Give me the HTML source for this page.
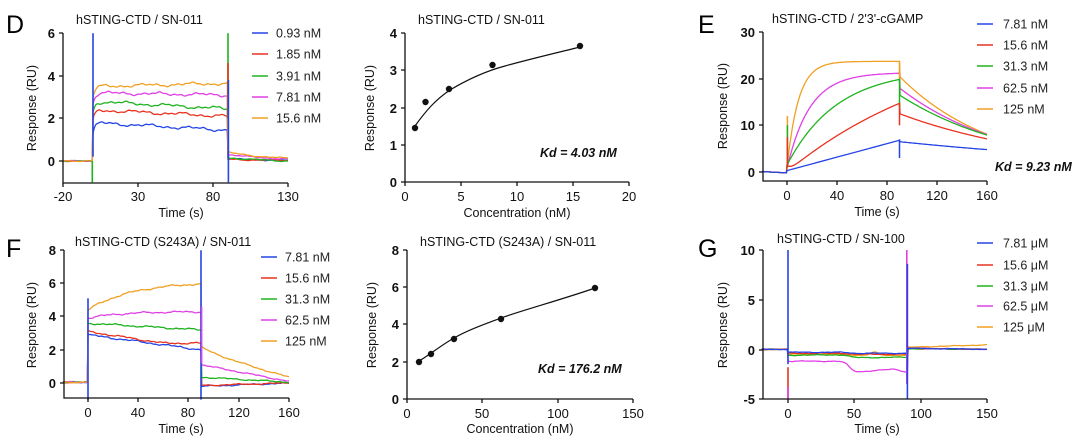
<!DOCTYPE html>
<html><head><meta charset="utf-8"><style>
html,body{margin:0;padding:0;background:#fff;}
svg{display:block;font-family:"Liberation Sans",Arial,sans-serif;}
.tk{font-size:13px;font-weight:bold;fill:#111;}
.tl{font-size:12.5px;fill:#111;}
.lg{font-size:12.5px;fill:#222;}
.ax{stroke:#111;stroke-width:1.3;fill:none;}
.big{font-size:25px;fill:#000;}
.kd{font-size:12.5px;font-weight:bold;font-style:italic;fill:#111;}
</style></head><body>
<svg id="s" width="1080" height="445" viewBox="0 0 1080 445" xmlns="http://www.w3.org/2000/svg">
<text class="big" x="6" y="33">D</text>
<text class="big" x="698" y="33">E</text>
<text class="big" x="6" y="257">F</text>
<text class="big" x="698" y="257">G</text>

<!-- ===== D ===== -->
<text class="tl" x="76" y="24">hSTING-CTD / SN-011</text>
<g id="dplot"></g>
<path class="ax" d="M63,33 V183 H288"/>
<g class="ax"><path d="M59,33H63M59,76H63M59,118H63M59,161H63M63,183v4M138,183v4M213,183v4M288,183v4"/></g>
<g class="tk" text-anchor="end"><text x="55" y="38">6</text><text x="55" y="81">4</text><text x="55" y="123">2</text><text x="55" y="166">0</text></g>
<g class="tk" text-anchor="middle" style="font-weight:normal"><text x="63" y="201">-20</text><text x="138" y="201">30</text><text x="213" y="201">80</text><text x="288" y="201">130</text></g>
<text class="tl" x="181" y="217" text-anchor="middle">Time (s)</text>
<text class="tl" transform="translate(36,108) rotate(-90)" text-anchor="middle">Response (RU)</text>

<!-- ===== D2 ===== -->
<text class="tl" x="418" y="24">hSTING-CTD / SN-011</text>
<path class="ax" d="M405,33 V182 H629"/>
<g class="ax"><path d="M401,33H405M401,70H405M401,108H405M401,145H405M401,182H405M405,182v4M461,182v4M517,182v4M573,182v4M629,182v4"/></g>
<g class="tk" text-anchor="end"><text x="397" y="38">4</text><text x="397" y="75">3</text><text x="397" y="113">2</text><text x="397" y="150">1</text><text x="397" y="187">0</text></g>
<g class="tk" text-anchor="middle" style="font-weight:normal"><text x="405" y="201">0</text><text x="461" y="201">5</text><text x="517" y="201">10</text><text x="573" y="201">15</text><text x="629" y="201">20</text></g>
<text class="tl" x="517" y="217" text-anchor="middle">Concentration (nM)</text>
<text class="tl" transform="translate(374,108) rotate(-90)" text-anchor="middle">Response (RU)</text>
<path d="M415,126 C425,112 435,100 450,90 C470,78 490,70 505,66 C530,59 560,52 580,47" fill="none" stroke="#111" stroke-width="1.2"/>
<g fill="#111"><circle cx="415" cy="128" r="3.2"/><circle cx="425.5" cy="102" r="3.2"/><circle cx="449" cy="89" r="3.2"/><circle cx="492.5" cy="65" r="3.2"/><circle cx="580" cy="46" r="3.2"/></g>
<text class="kd" x="540" y="157">Kd = 4.03 nM</text>

<!-- ===== E ===== -->
<text class="tl" x="772" y="23">hSTING-CTD / 2'3'-cGAMP</text>
<g id="eplot"></g>
<path class="ax" d="M763,32 V181 H987"/>
<g class="ax"><path d="M759,32H763M759,79H763M759,125H763M759,172H763M787,181v4M837,181v4M887,181v4M937,181v4M987,181v4"/></g>
<g class="tk" text-anchor="end"><text x="755" y="37">30</text><text x="755" y="84">20</text><text x="755" y="130">10</text><text x="755" y="177">0</text></g>
<g class="tk" text-anchor="middle" style="font-weight:normal"><text x="787" y="200">0</text><text x="837" y="200">40</text><text x="887" y="200">80</text><text x="937" y="200">120</text><text x="987" y="200">160</text></g>
<text class="tl" x="877" y="216" text-anchor="middle">Time (s)</text>
<text class="tl" transform="translate(727,106) rotate(-90)" text-anchor="middle">Response (RU)</text>
<text class="kd" x="995" y="171">Kd = 9.23 nM</text>

<!-- ===== F ===== -->
<text class="tl" x="75" y="246">hSTING-CTD (S243A) / SN-011</text>
<g id="fplot"></g>
<path class="ax" d="M64,250 V398 H289"/>
<g class="ax"><path d="M60,250H64M60,283H64M60,316H64M60,350H64M60,383H64M88,398v4M138,398v4M188,398v4M239,398v4M289,398v4"/></g>
<g class="tk" text-anchor="end"><text x="56" y="255">8</text><text x="56" y="288">6</text><text x="56" y="321">4</text><text x="56" y="355">2</text><text x="56" y="388">0</text></g>
<g class="tk" text-anchor="middle" style="font-weight:normal"><text x="88" y="417">0</text><text x="138" y="417">40</text><text x="188" y="417">80</text><text x="239" y="417">120</text><text x="289" y="417">160</text></g>
<text class="tl" x="181" y="433" text-anchor="middle">Time (s)</text>
<text class="tl" transform="translate(36,325) rotate(-90)" text-anchor="middle">Response (RU)</text>

<!-- ===== F2 ===== -->
<text class="tl" x="420" y="246">hSTING-CTD (S243A) / SN-011</text>
<path class="ax" d="M407,250 V399 H633"/>
<g class="ax"><path d="M403,250H407M403,287H407M403,324H407M403,362H407M403,399H407M407,399v4M482,399v4M558,399v4M633,399v4"/></g>
<g class="tk" text-anchor="end"><text x="399" y="255">8</text><text x="399" y="292">6</text><text x="399" y="329">4</text><text x="399" y="367">2</text><text x="399" y="404">0</text></g>
<g class="tk" text-anchor="middle" style="font-weight:normal"><text x="407" y="418">0</text><text x="482" y="418">50</text><text x="558" y="418">100</text><text x="633" y="418">150</text></g>
<text class="tl" x="520" y="433" text-anchor="middle">Concentration (nM)</text>
<text class="tl" transform="translate(376,325) rotate(-90)" text-anchor="middle">Response (RU)</text>
<path d="M419,361 C428,356 440,346 454,338 S485,324 501,318 S570,297 595,288" fill="none" stroke="#111" stroke-width="1.2"/>
<g fill="#111"><circle cx="419" cy="362" r="3.2"/><circle cx="431" cy="354" r="3.2"/><circle cx="454" cy="339" r="3.2"/><circle cx="501" cy="319" r="3.2"/><circle cx="595" cy="288" r="3.2"/></g>
<text class="kd" x="538" y="373">Kd = 176.2 nM</text>

<!-- ===== G ===== -->
<text class="tl" x="777" y="243">hSTING-CTD / SN-100</text>
<g id="gplot"></g>
<path class="ax" d="M763,250 V399 H987"/>
<g class="ax"><path d="M759,250H763M759,300H763M759,350H763M759,399H763M788,399v4M854,399v4M921,399v4M987,399v4"/></g>
<g class="tk" text-anchor="end"><text x="755" y="255">10</text><text x="755" y="305">5</text><text x="755" y="355">0</text><text x="755" y="404">-5</text></g>
<g class="tk" text-anchor="middle" style="font-weight:normal"><text x="788" y="418">0</text><text x="854" y="418">50</text><text x="921" y="418">100</text><text x="987" y="418">150</text></g>
<text class="tl" x="877" y="433" text-anchor="middle">Time (s)</text>
<text class="tl" transform="translate(727,325) rotate(-90)" text-anchor="middle">Response (RU)</text>

<g id="legends"></g>
</svg>
<script>
var C=["#2444e6","#e8331f","#1fb31f","#e040e6","#f0a022"];
var NS="http://www.w3.org/2000/svg";
function pl(g,pts,c,w){var p=document.createElementNS(NS,"polyline");p.setAttribute("points",pts.map(function(a){return a[0].toFixed(1)+","+a[1].toFixed(1)}).join(" "));p.setAttribute("fill","none");p.setAttribute("stroke",c);p.setAttribute("stroke-width",w||1.3);document.getElementById(g).appendChild(p);}
function nz(t,i){return 0.5*Math.sin(t*0.21+i*1.7)+0.3*Math.sin(t*0.53+i)+0.2*Math.sin(t*1.3+i*2.3);}
function curve(g,t0,t1,X,Y,f,c){var pts=[];for(var t=t0;t<=t1;t+=0.5){pts.push([X(t),Y(f(t))]);}pl(g,pts,c);}
// D
(function(){var X=function(t){return 93+1.5*t},Y=function(v){return 161-21.3*v};
var a=[1.8,2.4,2.8,3.2,3.5],b=[1.45,2.1,2.45,3.1,3.65],d=[0.1,0.08,0.15,0.3,0.4];
for(var i=0;i<5;i++)(function(i){curve("dplot",-20,130,X,Y,function(t){
 if(t<0)return 0.03*nz(t,i);
 if(t<90){var v=a[i]+(b[i]-a[i])*(t/90)-0.5*Math.exp(-t/1.5);return v+0.1*nz(t,i);}
 return d[i]*Math.exp(-(t-90)/35)-0.05*(i==2?1:0)*(t-90)/40+0.04*nz(t,i);},C[i]);})(i);
pl("dplot",[[X(0),Y(6)],[X(0),Y(0.2)]],C[0],1.6);pl("dplot",[[X(-0.5),Y(0)],[X(-0.5),Y(-1)]],C[2],1.6);
pl("dplot",[[X(90),Y(6)],[X(90),Y(2)]],C[2],1.6);pl("dplot",[[X(90),Y(4.6)],[X(90),Y(2)]],C[1],1.6);pl("dplot",[[X(90.3),Y(3.8)],[X(90.3),Y(-1)]],C[0],1.6);})();
// E
(function(){var X=function(t){return 787+1.25*t},Y=function(v){return 172-4.667*v};
var f=[function(t){return 0.3+6.5*t/90},function(t){return 30*(1-Math.exp(-0.0075*t))+1.5*Math.exp(-t/3)},function(t){return 20.5*(1-Math.exp(-0.025*t))+1.5},function(t){return 20.5*(1-Math.exp(-0.055*t))+0.8},function(t){return 22.8*(1-Math.exp(-0.11*t))+0.9}];
var s=[6.5,12.5,16.5,18,20.5],e=[4.8,7.1,7.9,8.0,8.1];
for(var i=4;i>=0;i--)(function(i){curve("eplot",-20,160,X,Y,function(t){
 if(t<0)return 0.1-0.3*(t+20)/20;
 if(t<=90)return f[i](t);
 var k=Math.log(s[i]/e[i])/70;return s[i]*Math.exp(-k*(t-90));},C[i]);})(i);
pl("eplot",[[X(0.3),Y(12)],[X(0.3),Y(1)]],C[4],1.5);pl("eplot",[[X(0.3),Y(10)],[X(0.3),Y(1)]],C[2],1.5);pl("eplot",[[X(0.3),Y(7.5)],[X(0.3),Y(1)]],C[1],1.5);
pl("eplot",[[X(90),Y(23.7)],[X(90),Y(20)]],C[4],1.5);pl("eplot",[[X(90),Y(20)],[X(90),Y(14)]],C[2],1.5);pl("eplot",[[X(90),Y(14.8)],[X(90),Y(10)]],C[1],1.5);pl("eplot",[[X(90),Y(7)],[X(90),Y(3)]],C[0],1.5);})();
// F
(function(){var X=function(t){return 88+1.256*t},Y=function(v){return 383-16.6*v};
var f=[function(t){return 2.9-0.9*t/90},function(t){return 3.1-0.7*Math.min(t/60,1)},function(t){return 3.6-0.4*t/90},function(t){return 3.9+0.4*(1-Math.exp(-t/25))},function(t){return 4.4+1.7*(1-Math.exp(-t/35))}];
var s=[-0.2,-0.15,0.35,1.1,2.2],e=[0,0,0.05,0.1,0.35];
for(var i=0;i<5;i++)(function(i){curve("fplot",-20,160,X,Y,function(t){
 if(t<0)return 0.05+0.05*nz(t,i);
 if(t<=90)return f[i](t)+0.07*nz(t,i);
 var u=(t-90)/70;return s[i]+(e[i]-s[i])*(i==4?Math.pow(u,0.8):u)+0.05*nz(t,i);},C[i]);})(i);
pl("fplot",[[X(0),Y(5.1)],[X(0),Y(-1)]],C[0],1.6);pl("fplot",[[X(90),Y(8)],[X(90),Y(-1)]],C[0],1.6);pl("fplot",[[X(90.5),Y(4.6)],[X(90.5),Y(1.2)]],C[3],1.4);})();
// G
(function(){var X=function(t){return 788+1.327*t},Y=function(v){return 349.3-9.93*v};
function sig(t){return 1/(1+Math.exp(-(t-46)/2));}
var f=[function(t){return -0.3-0.1*sig(t)},function(t){return -0.4-0.1*sig(t)},function(t){return -0.6-0.3*sig(t)+0.1*t/90},function(t){return -1.2-1.1*sig(t)+0.3*Math.max(0,t-50)/30-0.4*Math.max(0,t-80)/10},function(t){return -0.5-0.1*sig(t)+0.3*Math.exp(-Math.pow((t-65)/4,2))}];
var a=[0.1,0.1,0.05,0.1,0.2],b=[0,0,0,0,0.45];
for(var i=4;i>=0;i--)(function(i){curve("gplot",-20,150,X,Y,function(t){
 if(t<0)return 0.05*nz(t,i);
 if(t<=90)return f[i](t)+0.05*nz(t,i);
 return a[i]+(b[i]-a[i])*(t-90)/60+0.04*nz(t,i);},C[i]);})(i);
pl("gplot",[[X(0),Y(10)],[X(0),Y(-1.5)]],C[0],1.6);pl("gplot",[[X(0),Y(-1.8)],[X(0),Y(-5)]],C[1],1.6);pl("gplot",[[X(0),Y(-3.8)],[X(0),Y(-5)]],C[3],1.6);
pl("gplot",[[X(89.5),Y(10)],[X(89.5),Y(-3.5)]],C[3],1.6);pl("gplot",[[X(90),Y(8.6)],[X(90),Y(-5)]],C[0],1.6);})();
function leg(x,tx,ys,labels){for(var i=0;i<5;i++){pl("legends",[[x,ys[i]],[x+16,ys[i]]],C[i],1.5);var t=document.createElementNS(NS,"text");t.setAttribute("x",tx);t.setAttribute("y",ys[i]+4.5);t.setAttribute("class","lg");t.textContent=labels[i];document.getElementById("legends").appendChild(t);}}
leg(252,276,[33,54,76,97,118],["0.93 nM","1.85 nM","3.91 nM","7.81 nM","15.6 nM"]);
leg(977,1003,[24,45,66,88,109],["7.81 nM","15.6 nM","31.3 nM","62.5 nM","125 nM"]);
leg(261,285,[257,278,299,320,341],["7.81 nM","15.6 nM","31.3 nM","62.5 nM","125 nM"]);
leg(977,1003,[243,265,286,306,327],["7.81 μM","15.6 μM","31.3 μM","62.5 μM","125 μM"]);
</script>
</body></html>
